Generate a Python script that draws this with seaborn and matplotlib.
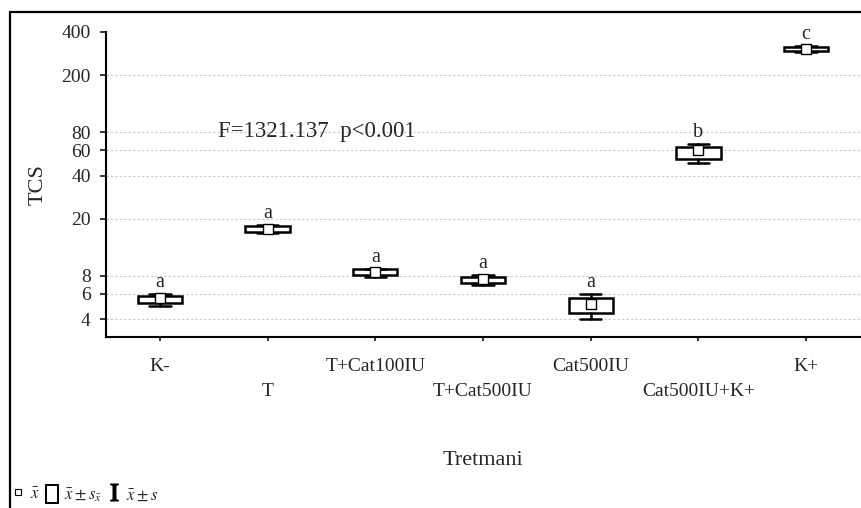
import numpy as np
import pandas as pd
import matplotlib.pyplot as plt
import matplotlib.ticker as mticker
from matplotlib.patches import Rectangle, Patch
from matplotlib.lines import Line2D
import seaborn as sns

#### Data (mean, mean +/- SE, mean +/- SD)
treatments = ['K-', 'T', 'T+Cat100IU', 'T+Cat500IU', 'Cat500IU', 'Cat500IU+K+', 'K+']
means   = [5.57, 17.0, 8.46, 7.64, 5.07, 60.0, 305.0]
se_low  = [5.15, 16.2, 8.10, 7.14, 4.40, 52.4, 294.0]
se_high = [5.81, 17.7, 8.88, 7.85, 5.57, 63.5, 313.0]
sd_low  = [4.95, 15.9, 7.87, 6.87, 3.99, 48.9, 290.0]
sd_high = [6.00, 18.1, 9.00, 8.10, 5.97, 66.6, 318.0]
letters = ['a', 'a', 'a', 'a', 'a', 'b', 'c']
ytick_vals = [4, 6, 8, 20, 40, 60, 80, 200, 400]
stat_text = 'F=1321.137  p<0.001'

df = pd.DataFrame({'Tretmani': treatments, 'TCS': means})

#### Style
sns.set_theme(style='white')
plt.rcParams['font.family'] = ['Liberation Serif', 'DejaVu Serif']
plt.rcParams['mathtext.fontset'] = 'stix'

fig = plt.figure(figsize=(8.61, 5.08), dpi=100)
ax = fig.add_axes([106/861, 1-337/508, 754/861, 305/508])

#### Boxes (mean +/- SE) and whiskers (mean +/- SD)
stats = []
for i in range(len(treatments)):
    stats.append({'med': means[i], 'q1': se_low[i], 'q3': se_high[i],
                  'whislo': sd_low[i], 'whishi': sd_high[i], 'fliers': []})
ax.bxp(stats, positions=range(len(treatments)), widths=0.41, capwidths=0.2,
       showfliers=False, patch_artist=True,
       boxprops=dict(facecolor='white', edgecolor='black', linewidth=1.8),
       whiskerprops=dict(color='black', linewidth=1.8),
       capprops=dict(color='black', linewidth=1.8),
       medianprops=dict(linewidth=0))

#### Means
sns.scatterplot(data=df, x='Tretmani', y='TCS', marker='s', s=45,
                facecolor='white', edgecolor='black', linewidth=1.0,
                ax=ax, zorder=5)

for i in range(len(treatments)):
    ax.annotate(letters[i], (i, sd_high[i]), xytext=(0, 5), textcoords='offset points',
                ha='center', va='baseline', fontsize=14.5)

ax.text(0.1485, 0.673, stat_text, transform=ax.transAxes, ha='left', va='center', fontsize=16.5)

#### Axes
ax.set_yscale('log')
ax.set_ylim(3, 400)
ax.set_xlim(-0.5, 6.5)
ax.yaxis.set_major_locator(mticker.FixedLocator(ytick_vals))
ax.yaxis.set_major_formatter(mticker.FixedFormatter([str(v) for v in ytick_vals]))
ax.yaxis.set_minor_locator(mticker.NullLocator())
ax.set_xticks(range(len(treatments)))
ax.set_xticklabels([t if i % 2 == 0 else '\n' + t for i, t in enumerate(treatments)],
                   linespacing=1.6)
ax.grid(axis='y', color='#c8c8c8', linestyle=(0, (2, 2)), linewidth=0.8)
ax.yaxis.get_gridlines()[-1].set_visible(False)
ax.tick_params(axis='y', length=4, width=1.3, direction='out', left=True, labelsize=14, pad=7)
ax.tick_params(axis='x', length=3, width=1.3, direction='out', bottom=True, labelsize=14, pad=12)
for s in ['top', 'right']:
    ax.spines[s].set_visible(False)
for s in ['left', 'bottom']:
    ax.spines[s].set_color('black')
    ax.spines[s].set_linewidth(1.5)

ax.set_ylabel('TCS', fontsize=16)
ax.yaxis.set_label_coords(-0.077, 0.5)
ax.set_xlabel('Tretmani', fontsize=16)
ax.xaxis.set_label_coords(0.5, -0.375)

#### Outer frame
fig.add_artist(Rectangle((10/861, -0.2), 1.2, 1.2 - 12/508, transform=fig.transFigure,
                         fill=False, edgecolor='black', linewidth=1.6))

#### Legend
handles = [Line2D([], [], marker='s', linestyle='none', markersize=5,
                  markerfacecolor='white', markeredgecolor='black', markeredgewidth=0.8),
           Patch(facecolor='white', edgecolor='black', linewidth=1.4),
           Line2D([], [], marker=r'$\mathrm{I}$', linestyle='none', markersize=12,
                  color='black')]
labels = [r'$\bar{x}$', r'$\bar{x} \pm s_{\bar{x}}$', r'$\bar{x} \pm s$']
fig.legend(handles, labels, loc='lower left', bbox_to_anchor=(8/861, 0.0), ncol=3,
           frameon=False, fontsize=12, handlelength=0.7, handleheight=1.3,
           handletextpad=0.35, columnspacing=0.4, borderpad=0.15, borderaxespad=0.1)

fig.savefig('out.png', dpi=100)
